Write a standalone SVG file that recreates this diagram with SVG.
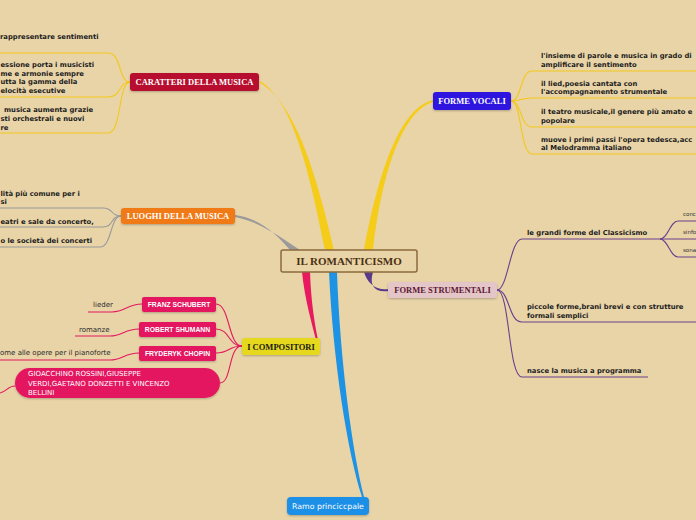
<svg xmlns="http://www.w3.org/2000/svg" width="696" height="520" viewBox="0 0 696 520">
<defs>
<filter id="sh" x="-10%" y="-20%" width="120%" height="160%">
<feDropShadow dx="0" dy="1" stdDeviation="0.8" flood-color="#000" flood-opacity="0.25"/>
</filter>
</defs>
<style>
.nt{font-family:"Liberation Serif","Times New Roman",serif;font-weight:bold;font-size:8.5px;text-anchor:middle}
.ct{font-family:"Liberation Sans",Arial,sans-serif;font-weight:bold;font-size:6.8px;fill:#fff;text-anchor:middle}
.bt{font-family:"DejaVu Sans",Verdana,sans-serif;font-weight:bold;font-size:6.8px;fill:#1c1c1c}
.rt{font-family:"DejaVu Sans",Verdana,sans-serif;font-size:7px;fill:#2a2a2a}
.wt{font-family:"DejaVu Sans",Verdana,sans-serif;font-size:7px;fill:#fff}
.st{font-family:"DejaVu Sans",Verdana,sans-serif;font-size:5.5px;fill:#333}
.ln{fill:none;stroke-width:1.1}
.y{stroke:#F3C81A}.g{stroke:#9A9A9A}.p{stroke:#E3195F}.v{stroke:#6A3F8C}
.nd{filter:url(#sh)}
</style>
<rect width="696" height="520" fill="#E9D4A8"/>
<g id="connectors">
<path d="M325,250 C311,180 294,101 260,81 L260,83 C296,103 318,180 334,250 Z" fill="#F5CC1A"/>
<path d="M364,250 C377,180 398,108 433,100 L433,102 C400,112 381,180 373,250 Z" fill="#F5CC1A"/>
<path d="M290,250 C275,232 258,218 235,215 L235,217 C258,221 279,236 300,250 Z" fill="#9A9A9A"/>
<path d="M364,272 C367,283 376,291 389,289 L389,291 C374,293 369,285 373,272 Z" fill="#5B3A8A"/>
<path d="M302,272 C305,300 311,320 316,340 L318,340 C314,320 311,300 310,272 Z" fill="#E8195E"/>
<path d="M329,272 C333,360 347,450 362,497 L364,497 C352,450 340,360 337,272 Z" fill="#1E93E4"/>
<path class="ln y" d="M130,82 C118,82 122,53 108,53 H0"/>
<path class="ln y" d="M130,82 C118,82 122,97 108,97 H0"/>
<path class="ln y" d="M130,82 C118,82 122,133 108,133 H0"/>
<path class="ln g" d="M121,216 C110,216 114,208 103,208 H0"/>
<path class="ln g" d="M121,216 C110,216 114,227 103,227 H0"/>
<path class="ln g" d="M121,216 C110,216 112,247 100,247 H0"/>
<path class="ln p" d="M242,346 C228,346 230,304 216,304"/>
<path class="ln p" d="M242,346 C228,346 230,329 216,329"/>
<path class="ln p" d="M242,346 C228,346 230,353 216,353"/>
<path class="ln p" d="M242,346 C228,346 232,383 220,383"/>
<path class="ln p" d="M142,304 C128,304 125,312 112,312 H88"/>
<path class="ln p" d="M139,329 C125,329 122,336 110,336 H75"/>
<path class="ln p" d="M139,353 C125,353 122,360 110,360 H0"/>
<path class="ln p" d="M15,386 C8,386 6,392 0,393"/>
<path class="ln y" d="M511,101 C522,101 520,71 532,71 H696"/>
<path class="ln y" d="M511,101 C522,101 520,98 532,98 H696"/>
<path class="ln y" d="M511,101 C522,101 520,127 532,127 H696"/>
<path class="ln y" d="M511,101 C522,101 520,154 532,154 H696"/>
<path class="ln v" d="M497,290 C508,290 510,239 522,239 H660"/>
<path class="ln v" d="M497,290 C510,290 508,322 522,322 H696"/>
<path class="ln v" d="M497,290 C510,290 508,377 522,377 H648"/>
<path class="ln v" d="M660,239 C668,239 670,221 678,221 H696"/>
<path class="ln v" d="M660,239 H696"/>
<path class="ln v" d="M660,239 C668,239 670,257 678,257 H696"/>
</g>
<g id="center">
<rect x="281" y="250" width="136" height="22" rx="2" fill="#E9D4A8" stroke="#8C6A3D" stroke-width="1.5"/>
<text class="nt" x="349" y="265" style="font-size:11px" fill="#4B2F12">IL ROMANTICISMO</text>
</g>
<g id="caratteri">
<rect class="nd" x="130" y="73" width="129" height="18" rx="3" fill="#B7102F"/>
<text class="nt" x="194.5" y="85" fill="#fff">CARATTERI DELLA MUSICA</text>
</g>
<g id="caratteri-testi">
<text class="bt" x="0" y="38.5">rappresentare sentimenti</text>
<text class="bt" x="0.5" y="66.5">essione porta i musicisti</text>
<text class="bt" x="0.5" y="75.5">me e armonie sempre</text>
<text class="bt" x="0.5" y="84">utta la gamma della</text>
<text class="bt" x="0.5" y="93">elocità esecutive</text>
<text class="bt" x="4" y="112">musica aumenta grazie</text>
<text class="bt" x="0.5" y="121">sti orchestrali e nuovi</text>
<text class="bt" x="0.5" y="129.5">re</text>
</g>
<g id="luoghi">
<rect class="nd" x="121" y="208" width="114" height="16" rx="3" fill="#F07A16"/>
<text class="nt" x="178" y="219" fill="#fff">LUOGHI DELLA MUSICA</text>
</g>
<g id="luoghi-testi">
<text class="bt" x="0.5" y="195.5">lità più comune per i</text>
<text class="bt" x="0.5" y="203.5">si</text>
<text class="bt" x="0.5" y="223.5">eatri e sale da concerto,</text>
<text class="bt" x="0.5" y="242.5">o le società dei concerti</text>
</g>
<g id="compositori">
<rect class="nd" x="242" y="338" width="78" height="17" rx="3" fill="#E6D81E"/>
<text class="nt" x="281" y="349.5" fill="#1a1a1a">I COMPOSITORI</text>
</g>
<g id="schubert">
<rect class="nd" x="142" y="297" width="74" height="15" rx="2" fill="#E3195F"/>
<text class="ct" x="179" y="307">FRANZ SCHUBERT</text>
<text class="rt" x="93" y="306.5">lieder</text>
</g>
<g id="shumann">
<rect class="nd" x="139" y="322" width="77" height="15" rx="2" fill="#E3195F"/>
<text class="ct" x="177.5" y="332">ROBERT SHUMANN</text>
<text class="rt" x="79" y="331.5">romanze</text>
</g>
<g id="chopin">
<rect class="nd" x="139" y="346" width="77" height="15" rx="2" fill="#E3195F"/>
<text class="ct" x="177.5" y="356">FRYDERYK CHOPIN</text>
<text class="rt" x="0" y="355">ome alle opere per il pianoforte</text>
</g>
<g id="italiani">
<rect class="nd" x="15" y="368" width="205" height="30" rx="15" fill="#E3195F"/>
<text class="wt" x="28" y="376">GIOACCHINO ROSSINI,GIUSEPPE</text>
<text class="wt" x="28" y="386">VERDI,GAETANO DONZETTI E VINCENZO</text>
<text class="wt" x="28" y="394.5">BELLINI</text>
</g>
<g id="vocali">
<rect class="nd" x="433" y="92" width="78" height="18" rx="3" fill="#2F14E0"/>
<text class="nt" x="472" y="104" fill="#fff">FORME VOCALI</text>
</g>
<g id="vocali-testi">
<text class="bt" x="541" y="58">l'insieme di parole e musica in grado di</text>
<text class="bt" x="541" y="66.5">amplificare il sentimento</text>
<text class="bt" x="541" y="86">il lied,poesia cantata con</text>
<text class="bt" x="541" y="94">l'accompagnamento strumentale</text>
<text class="bt" x="541" y="114">il teatro musicale,il genere più amato e</text>
<text class="bt" x="541" y="122.5">popolare</text>
<text class="bt" x="541" y="142">muove i primi passi l'opera tedesca,acc</text>
<text class="bt" x="541" y="150">al Melodramma italiano</text>
</g>
<g id="strumentali">
<rect class="nd" x="388" y="282" width="109" height="16" rx="3" fill="#E4C6C8"/>
<text class="nt" x="442.5" y="293" fill="#5C1733">FORME STRUMENTALI</text>
</g>
<g id="strumentali-testi">
<text class="bt" x="527" y="234.7">le grandi forme del Classicismo</text>
<text class="bt" x="527" y="309">piccole forme,brani brevi e con strutture</text>
<text class="bt" x="527" y="317.5">formali semplici</text>
<text class="bt" x="527" y="372.5">nasce la musica a programma</text>
<text class="st" x="683" y="216">conc</text>
<text class="st" x="683" y="234">sinfo</text>
<text class="st" x="683" y="252">sona</text>
</g>
<g id="ramo">
<rect class="nd" x="287" y="497" width="82" height="18" rx="4" fill="#1E90E6"/>
<text x="328" y="509" text-anchor="middle" font-family="DejaVu Sans, Verdana, sans-serif" font-size="7.8" fill="#fff">Ramo princiccpale</text>
</g>
</svg>
